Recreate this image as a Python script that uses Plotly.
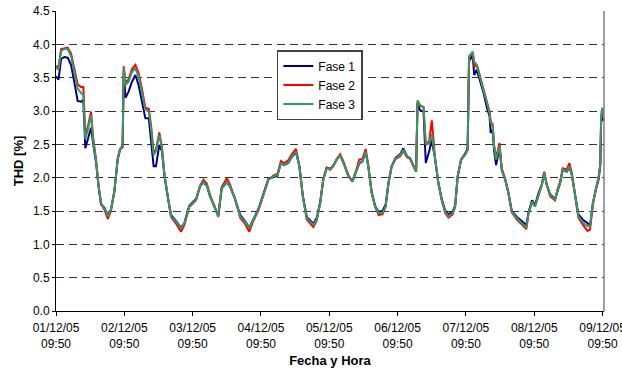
import pandas as pd
import plotly.graph_objects as go

# hours since 01/12/05 09:50
hours = [0.0, 0.9, 1.8, 2.9, 4.1, 5.3, 6.4, 7.6, 8.8, 9.6, 10.3, 11.1, 12.3, 13.1, 14.1, 14.9,
         15.8, 17.0, 18.2, 19.3, 20.5, 21.7, 22.5, 23.4, 23.8, 24.4, 25.5, 26.7, 27.9, 29.0,
         30.2, 31.4, 32.6, 33.4, 34.3, 35.1, 36.3, 37.2, 38.1, 39.2, 40.4, 42.2, 43.9, 45.1,
         46.8, 48.0, 49.2, 50.6, 51.8, 53.0, 54.1, 55.9, 57.0, 58.2, 60.0, 61.1, 62.9, 64.7,
         66.4, 67.9, 69.3, 71.1, 72.9, 74.6, 76.4, 77.8, 79.0, 80.1, 81.6, 82.8, 84.3, 85.5,
         86.7, 88.1, 89.3, 90.4, 91.6, 92.8, 93.9, 95.1, 96.3, 97.4, 98.6, 99.8, 101.0, 102.7,
         104.1, 105.3, 106.5, 107.6, 108.8, 109.7, 110.9, 112.1, 113.3, 114.7, 115.8, 116.8,
         117.9, 119.3, 120.9, 122.0, 123.2, 124.4, 125.6, 126.5, 127.0, 127.9, 129.1, 129.9,
         131.1, 132.0, 133.2, 134.3, 135.5, 136.7, 137.9, 139.3, 140.2, 141.1, 142.3, 143.7,
         144.6, 145.1, 146.4, 146.9, 147.8, 149.0, 150.2, 151.3, 152.3, 152.7, 153.4, 153.9,
         154.6, 155.8, 156.6, 157.8, 158.9, 160.1, 161.9, 163.6, 165.2, 166.0, 167.2, 168.3,
         169.5, 170.7, 171.5, 172.4, 173.6, 175.3, 176.2, 177.1, 178.0, 179.4, 180.3, 181.2,
         182.4, 183.5, 185.3, 186.7, 187.6, 188.6, 189.7, 190.6, 191.2, 191.5, 191.9, 192.4]

fase1 = [3.52, 3.47, 3.78, 3.81, 3.80, 3.69, 3.44, 3.15, 3.14, 3.17, 2.44, 2.55, 2.75, 2.50, 2.22, 1.88,
         1.60, 1.55, 1.43, 1.52, 1.79, 2.28, 2.42, 2.46, 3.60, 3.20, 3.29, 3.44, 3.54, 3.39,
         3.14, 2.89, 2.89, 2.55, 2.17, 2.17, 2.49, 2.40, 2.03, 1.72, 1.44, 1.35, 1.25, 1.32,
         1.58, 1.63, 1.68, 1.87, 1.93, 1.88, 1.72, 1.54, 1.43, 1.84, 1.93, 1.87, 1.68, 1.44,
         1.35, 1.25, 1.38, 1.53, 1.76, 1.98, 2.01, 2.03, 2.22, 2.19, 2.22, 2.31, 2.38, 2.17,
         1.73, 1.41, 1.36, 1.31, 1.40, 1.63, 1.98, 2.15, 2.13, 2.18, 2.27, 2.34, 2.22, 2.03,
         1.94, 2.07, 2.21, 2.24, 2.38, 2.17, 1.78, 1.58, 1.49, 1.50, 1.60, 1.92,
         2.17, 2.30, 2.35, 2.44, 2.33, 2.29, 2.17, 2.09, 3.12, 3.01, 2.99, 2.22,
         2.40, 2.56, 2.27, 1.93, 1.68, 1.51, 1.45, 1.49, 1.58, 2.02, 2.27, 2.36,
         2.44, 3.75, 3.83, 3.54, 3.62, 3.44, 3.27, 3.06, 2.92, 2.67, 2.72, 2.40,
         2.19, 2.45, 2.11, 1.97, 1.78, 1.50, 1.41, 1.35, 1.29, 1.48, 1.66, 1.59,
         1.77, 1.90, 2.07, 1.89, 1.75, 1.68, 1.82, 1.92, 2.12, 2.09, 2.16, 2.04,
         1.73, 1.45, 1.36, 1.32, 1.28, 1.62, 1.83, 1.98, 2.18, 2.85, 2.90, 2.85]

fase2 = [3.67, 3.66, 3.93, 3.94, 3.95, 3.86, 3.63, 3.40, 3.36, 3.36, 2.65, 2.75, 2.99, 2.58, 2.26, 1.90,
         1.62, 1.52, 1.38, 1.50, 1.80, 2.30, 2.43, 2.48, 3.67, 3.42, 3.48, 3.63, 3.69, 3.57,
         3.33, 3.05, 3.03, 2.78, 2.37, 2.42, 2.68, 2.46, 2.05, 1.73, 1.41, 1.31, 1.19, 1.29,
         1.56, 1.61, 1.66, 1.88, 1.97, 1.91, 1.74, 1.55, 1.41, 1.86, 1.99, 1.90, 1.68, 1.40,
         1.31, 1.19, 1.35, 1.51, 1.74, 1.97, 2.03, 2.06, 2.25, 2.22, 2.26, 2.35, 2.43, 2.18,
         1.72, 1.37, 1.31, 1.26, 1.36, 1.62, 1.98, 2.15, 2.12, 2.18, 2.28, 2.35, 2.24, 2.03,
         1.95, 2.09, 2.27, 2.28, 2.43, 2.18, 1.77, 1.56, 1.44, 1.45, 1.56, 1.92,
         2.17, 2.28, 2.32, 2.40, 2.31, 2.28, 2.17, 2.09, 3.14, 3.08, 3.06, 2.49,
         2.55, 2.86, 2.28, 1.92, 1.66, 1.47, 1.40, 1.45, 1.56, 2.02, 2.27, 2.34,
         2.41, 3.80, 3.86, 3.66, 3.70, 3.50, 3.33, 3.13, 2.99, 2.84, 2.80, 2.48,
         2.30, 2.52, 2.14, 1.98, 1.77, 1.48, 1.37, 1.30, 1.23, 1.46, 1.63, 1.57,
         1.75, 1.91, 2.09, 1.89, 1.72, 1.66, 1.83, 1.94, 2.14, 2.12, 2.22, 2.07,
         1.72, 1.40, 1.28, 1.20, 1.22, 1.60, 1.84, 1.98, 2.22, 2.90, 2.95, 2.92]

fase3 = [3.65, 3.62, 3.90, 3.93, 3.93, 3.82, 3.59, 3.34, 3.27, 3.24, 2.58, 2.70, 2.94, 2.55, 2.24, 1.89,
         1.62, 1.54, 1.42, 1.52, 1.79, 2.29, 2.42, 2.47, 3.65, 3.39, 3.44, 3.59, 3.64, 3.52,
         3.29, 3.02, 2.99, 2.74, 2.34, 2.39, 2.64, 2.44, 2.04, 1.72, 1.42, 1.34, 1.24, 1.32,
         1.57, 1.62, 1.67, 1.87, 1.94, 1.89, 1.72, 1.54, 1.42, 1.84, 1.94, 1.87, 1.67, 1.42,
         1.34, 1.24, 1.37, 1.52, 1.74, 1.97, 2.02, 2.04, 2.22, 2.19, 2.22, 2.32, 2.39, 2.17,
         1.72, 1.39, 1.34, 1.29, 1.37, 1.62, 1.97, 2.14, 2.12, 2.17, 2.27, 2.34, 2.22, 2.02,
         1.94, 2.07, 2.22, 2.24, 2.39, 2.17, 1.77, 1.57, 1.47, 1.47, 1.57, 1.92,
         2.17, 2.29, 2.34, 2.42, 2.32, 2.29, 2.17, 2.09, 3.16, 3.09, 3.06, 2.51,
         2.51, 2.66, 2.27, 1.92, 1.67, 1.49, 1.42, 1.47, 1.57, 2.02, 2.27, 2.34,
         2.42, 3.82, 3.89, 3.74, 3.69, 3.49, 3.32, 3.12, 2.97, 2.82, 2.77, 2.47,
         2.27, 2.47, 2.12, 1.97, 1.77, 1.49, 1.39, 1.32, 1.25, 1.47, 1.64, 1.57,
         1.74, 1.89, 2.07, 1.89, 1.74, 1.67, 1.82, 1.92, 2.12, 2.09, 2.17, 2.04,
         1.72, 1.42, 1.32, 1.27, 1.27, 1.62, 1.84, 2.02, 2.20, 2.95, 3.05, 2.95]

series_names = ["Fase 1", "Fase 2", "Fase 3"]
series_colors = ["#000080", "#ff0000", "#339966"]

start = pd.Timestamp("2005-12-01 09:50")
times = start + pd.to_timedelta(hours, unit="h")
tick_dates = pd.date_range(start, periods=9, freq="D")
tick_text = [d.strftime("%d/%m/%y") + "<br>" + d.strftime("%H:%M") for d in tick_dates]

fig = go.Figure()
for name, vals, col in zip(series_names, [fase1, fase2, fase3], series_colors):
    fig.add_trace(go.Scatter(x=times, y=vals, mode="lines", name=name,
                             line=dict(color=col, width=2)))

fig.update_layout(
    width=622, height=369,
    margin=dict(l=56, r=18, t=11, b=58, autoexpand=False),
    paper_bgcolor="white", plot_bgcolor="white",
    font=dict(family="Liberation Sans, Arial, sans-serif", size=12, color="black"),
    legend=dict(x=0.403, y=0.87, xanchor="left", yanchor="top",
                bgcolor="white", bordercolor="#404040", borderwidth=1.5,
                font=dict(size=12), tracegroupgap=0, itemwidth=30),
    showlegend=True,
)
fig.update_xaxes(
    range=[start, start + pd.Timedelta(hours=192.5)],
    tickvals=tick_dates, ticktext=tick_text,
    automargin=False, ticklabeloverflow="allow", ticklabelstandoff=2,
    showgrid=False, showline=True, linecolor="black", linewidth=1,
    ticks="outside", ticklen=4, tickcolor="black",
    title=dict(text="<b>Fecha y Hora</b>", font=dict(size=13), standoff=5),
    zeroline=False,
)
fig.update_yaxes(
    range=[0, 4.5], dtick=0.5, tickformat=".1f",
    automargin=False, ticklabeloverflow="allow",
    showgrid=True, gridcolor="#333333", gridwidth=1, griddash="8px,5px",
    showline=True, linecolor="black", linewidth=1,
    ticks="outside", ticklen=3, tickcolor="black",
    title=dict(text="<b>THD [%]</b>", font=dict(size=13), standoff=6),
    zeroline=False,
)
fig.add_shape(type="line", xref="paper", yref="paper", x0=1, x1=1, y0=0, y1=1,
              line=dict(color="#808080", width=1.5))

fig.write_html("out.html", config={"displayModeBar": False},
               post_script="document.body.style.margin='0';document.body.style.overflow='hidden';")
